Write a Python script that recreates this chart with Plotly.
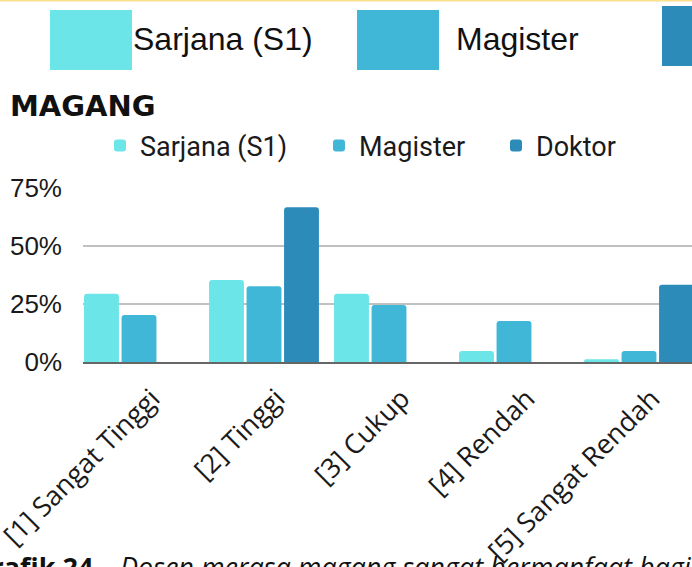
import plotly.graph_objects as go

categories = ["[1] Sangat Tinggi", "[2] Tinggi", "[3] Cukup", "[4] Rendah", "[5] Sangat Rendah"]
series_names = ["Sarjana (S1)", "Magister", "Doktor"]
sarjana = [29.4, 35.3, 29.4, 4.7, 1.2]
magister = [20.3, 32.7, 24.6, 17.7, 4.7]
doktor = [0, 66.7, 0, 0, 33.3]
y_ticks = [0, 25, 50, 75]
y_tick_labels = ["0%", "25%", "50%", "75%"]
colors = ["#6ce5e8", "#41b7d7", "#2d8bba"]

W, H = 692, 567
L, R, T, B = 83, 0, 188, 205
PW, PH = W - L - R, H - T - B

def px(x):
    return (x - L) / PW

def py(y):
    return (H - B - y) / PH

fig = go.Figure()
legend_ids = ["legend", "legend2", "legend3"]
for name, vals, col, lg in zip(series_names, [sarjana, magister, doktor], colors, legend_ids):
    fig.add_trace(go.Bar(x=categories, y=vals, name=name,
                         marker=dict(color=col, cornerradius=3, line=dict(width=0)), legend=lg))

legend_font = dict(family="Roboto", size=27, color="#1a1a1a")
leg_common = dict(orientation="h", xanchor="left", yanchor="middle", y=py(146), font=legend_font,
                  bgcolor="rgba(0,0,0,0)", borderwidth=0, itemclick=False)

fig.update_layout(
    width=W, height=H,
    margin=dict(l=L, r=R, t=T, b=B, autoexpand=False),
    paper_bgcolor="white", plot_bgcolor="white",
    barmode="group", bargap=0.1, bargroupgap=0.07,
    showlegend=True,
    legend=dict(x=px(100), **leg_common),
    legend2=dict(x=px(319), **leg_common),
    legend3=dict(x=px(496), **leg_common),
    xaxis=dict(range=[-0.448, 4.424], tickangle=-45, showgrid=False, ticks="",
               showline=True, linecolor="#666666", linewidth=2, automargin=False,
               ticklabelshift=13, ticklabelstandoff=8,
               tickfont=dict(family="Open Sans", size=27, color="#1a1a1a")),
    yaxis=dict(range=[0, 75], tickvals=y_ticks, ticktext=y_tick_labels, showgrid=True,
               gridcolor="#c0c0c0", gridwidth=1.5, zeroline=False, ticks="",
               ticklabelstandoff=20, automargin=False,
               tickfont=dict(family="Liberation Sans", size=26, color="#1a1a1a")),
)

# top partial legend (big squares)
shapes = [
    dict(type="line", xref="paper", yref="paper", x0=px(-5), x1=px(W + 5), y0=py(0.5), y1=py(0.5),
         line=dict(color="#fbe08c", width=2)),
    dict(type="rect", xref="paper", yref="paper", x0=px(50), x1=px(132), y0=py(70), y1=py(10),
         fillcolor=colors[0], line=dict(width=0)),
    dict(type="rect", xref="paper", yref="paper", x0=px(357), x1=px(439), y0=py(70), y1=py(10),
         fillcolor=colors[1], line=dict(width=0)),
    dict(type="rect", xref="paper", yref="paper", x0=px(662), x1=px(730), y0=py(66), y1=py(6),
         fillcolor=colors[2], line=dict(width=0)),
]
fig.update_layout(shapes=shapes)

annotations = [
    dict(text=series_names[0], x=px(131), y=py(39), xanchor="left", yanchor="middle",
         font=dict(family="Liberation Sans", size=32, color="#111111")),
    dict(text=series_names[1], x=px(454), y=py(39), xanchor="left", yanchor="middle",
         font=dict(family="Liberation Sans", size=32, color="#111111")),
    dict(text="<b>MAGANG</b>", x=px(8), y=py(105.5), xanchor="left", yanchor="middle",
         font=dict(family="DejaVu Sans", size=29, color="#111111")),
    dict(text="<b>Grafik 24.</b>", x=px(103), y=py(546), xanchor="right", yanchor="top",
         font=dict(family="Open Sans", size=27, color="#111111")),
    dict(text="<i>Dosen merasa magang sangat bermanfaat bagi lulusan</i>",
         x=px(118), y=py(546), xanchor="left", yanchor="top",
         font=dict(family="Open Sans", size=27, color="#111111")),
]
for a in annotations:
    a.update(xref="paper", yref="paper", showarrow=False)
fig.update_layout(annotations=annotations)

fig.write_html("out.html", config={"displayModeBar": False},
               post_script="document.body.style.margin='0';")
